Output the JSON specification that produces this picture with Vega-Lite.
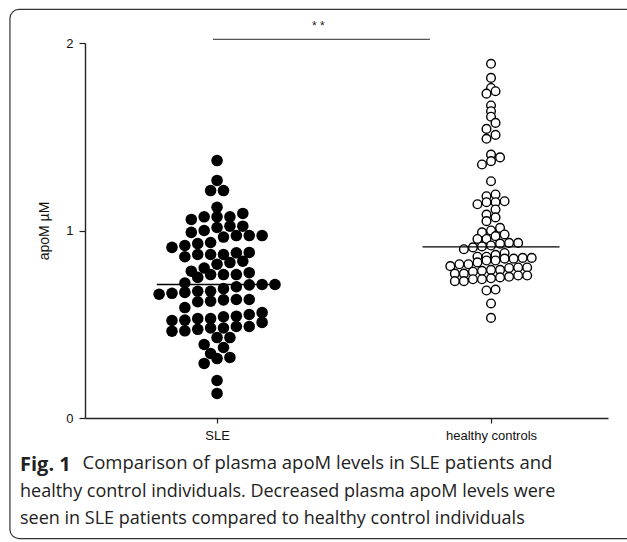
{
  "$schema": "https://vega.github.io/schema/vega-lite/v6.json",
  "width": 523,
  "height": 375,
  "autosize": "none",
  "padding": {"left": 85, "top": 43, "right": 19, "bottom": 124},
  "background": "white",
  "datasets": {
    "apom": [
      {"group": "SLE", "apoM": 1.373}, {"group": "SLE", "apoM": 1.267}, {"group": "SLE", "apoM": 1.213}, {"group": "SLE", "apoM": 1.213},
      {"group": "SLE", "apoM": 1.124}, {"group": "SLE", "apoM": 1.091}, {"group": "SLE", "apoM": 1.073}, {"group": "SLE", "apoM": 1.073},
      {"group": "SLE", "apoM": 1.073}, {"group": "SLE", "apoM": 1.059}, {"group": "SLE", "apoM": 1.023}, {"group": "SLE", "apoM": 1.023},
      {"group": "SLE", "apoM": 1.016}, {"group": "SLE", "apoM": 1.0}, {"group": "SLE", "apoM": 0.99}, {"group": "SLE", "apoM": 0.973},
      {"group": "SLE", "apoM": 0.973}, {"group": "SLE", "apoM": 0.973}, {"group": "SLE", "apoM": 0.965}, {"group": "SLE", "apoM": 0.936},
      {"group": "SLE", "apoM": 0.93}, {"group": "SLE", "apoM": 0.92}, {"group": "SLE", "apoM": 0.91}, {"group": "SLE", "apoM": 0.883},
      {"group": "SLE", "apoM": 0.881}, {"group": "SLE", "apoM": 0.872}, {"group": "SLE", "apoM": 0.872}, {"group": "SLE", "apoM": 0.872},
      {"group": "SLE", "apoM": 0.86}, {"group": "SLE", "apoM": 0.836}, {"group": "SLE", "apoM": 0.829}, {"group": "SLE", "apoM": 0.82},
      {"group": "SLE", "apoM": 0.8}, {"group": "SLE", "apoM": 0.783}, {"group": "SLE", "apoM": 0.775}, {"group": "SLE", "apoM": 0.765},
      {"group": "SLE", "apoM": 0.765}, {"group": "SLE", "apoM": 0.765}, {"group": "SLE", "apoM": 0.75}, {"group": "SLE", "apoM": 0.72},
      {"group": "SLE", "apoM": 0.712}, {"group": "SLE", "apoM": 0.712}, {"group": "SLE", "apoM": 0.71}, {"group": "SLE", "apoM": 0.7},
      {"group": "SLE", "apoM": 0.69}, {"group": "SLE", "apoM": 0.676}, {"group": "SLE", "apoM": 0.676}, {"group": "SLE", "apoM": 0.67},
      {"group": "SLE", "apoM": 0.665}, {"group": "SLE", "apoM": 0.66}, {"group": "SLE", "apoM": 0.632}, {"group": "SLE", "apoM": 0.632},
      {"group": "SLE", "apoM": 0.623}, {"group": "SLE", "apoM": 0.62}, {"group": "SLE", "apoM": 0.63}, {"group": "SLE", "apoM": 0.589},
      {"group": "SLE", "apoM": 0.562}, {"group": "SLE", "apoM": 0.552}, {"group": "SLE", "apoM": 0.543}, {"group": "SLE", "apoM": 0.54},
      {"group": "SLE", "apoM": 0.53}, {"group": "SLE", "apoM": 0.53}, {"group": "SLE", "apoM": 0.522}, {"group": "SLE", "apoM": 0.52},
      {"group": "SLE", "apoM": 0.51}, {"group": "SLE", "apoM": 0.488}, {"group": "SLE", "apoM": 0.488}, {"group": "SLE", "apoM": 0.48},
      {"group": "SLE", "apoM": 0.48}, {"group": "SLE", "apoM": 0.473}, {"group": "SLE", "apoM": 0.465}, {"group": "SLE", "apoM": 0.463},
      {"group": "SLE", "apoM": 0.429}, {"group": "SLE", "apoM": 0.429}, {"group": "SLE", "apoM": 0.392}, {"group": "SLE", "apoM": 0.376},
      {"group": "SLE", "apoM": 0.344}, {"group": "SLE", "apoM": 0.323}, {"group": "SLE", "apoM": 0.317}, {"group": "SLE", "apoM": 0.291},
      {"group": "SLE", "apoM": 0.2}, {"group": "SLE", "apoM": 0.131},
      {"group": "healthy controls", "apoM": 1.889}, {"group": "healthy controls", "apoM": 1.814}, {"group": "healthy controls", "apoM": 1.76},
      {"group": "healthy controls", "apoM": 1.743}, {"group": "healthy controls", "apoM": 1.73}, {"group": "healthy controls", "apoM": 1.667},
      {"group": "healthy controls", "apoM": 1.636}, {"group": "healthy controls", "apoM": 1.607}, {"group": "healthy controls", "apoM": 1.574},
      {"group": "healthy controls", "apoM": 1.542}, {"group": "healthy controls", "apoM": 1.51}, {"group": "healthy controls", "apoM": 1.489},
      {"group": "healthy controls", "apoM": 1.405}, {"group": "healthy controls", "apoM": 1.39}, {"group": "healthy controls", "apoM": 1.37},
      {"group": "healthy controls", "apoM": 1.352}, {"group": "healthy controls", "apoM": 1.263}, {"group": "healthy controls", "apoM": 1.192},
      {"group": "healthy controls", "apoM": 1.183}, {"group": "healthy controls", "apoM": 1.156}, {"group": "healthy controls", "apoM": 1.151},
      {"group": "healthy controls", "apoM": 1.151}, {"group": "healthy controls", "apoM": 1.14}, {"group": "healthy controls", "apoM": 1.112},
      {"group": "healthy controls", "apoM": 1.085}, {"group": "healthy controls", "apoM": 1.07}, {"group": "healthy controls", "apoM": 1.05},
      {"group": "healthy controls", "apoM": 1.014}, {"group": "healthy controls", "apoM": 1.0}, {"group": "healthy controls", "apoM": 0.99},
      {"group": "healthy controls", "apoM": 0.979}, {"group": "healthy controls", "apoM": 0.97}, {"group": "healthy controls", "apoM": 0.955},
      {"group": "healthy controls", "apoM": 0.955}, {"group": "healthy controls", "apoM": 0.934}, {"group": "healthy controls", "apoM": 0.934},
      {"group": "healthy controls", "apoM": 0.93}, {"group": "healthy controls", "apoM": 0.92}, {"group": "healthy controls", "apoM": 0.915},
      {"group": "healthy controls", "apoM": 0.91}, {"group": "healthy controls", "apoM": 0.9}, {"group": "healthy controls", "apoM": 0.88},
      {"group": "healthy controls", "apoM": 0.87}, {"group": "healthy controls", "apoM": 0.86}, {"group": "healthy controls", "apoM": 0.86},
      {"group": "healthy controls", "apoM": 0.854}, {"group": "healthy controls", "apoM": 0.854}, {"group": "healthy controls", "apoM": 0.85},
      {"group": "healthy controls", "apoM": 0.85}, {"group": "healthy controls", "apoM": 0.84}, {"group": "healthy controls", "apoM": 0.84},
      {"group": "healthy controls", "apoM": 0.83}, {"group": "healthy controls", "apoM": 0.82}, {"group": "healthy controls", "apoM": 0.82},
      {"group": "healthy controls", "apoM": 0.81}, {"group": "healthy controls", "apoM": 0.803}, {"group": "healthy controls", "apoM": 0.803},
      {"group": "healthy controls", "apoM": 0.8}, {"group": "healthy controls", "apoM": 0.79}, {"group": "healthy controls", "apoM": 0.79},
      {"group": "healthy controls", "apoM": 0.785}, {"group": "healthy controls", "apoM": 0.78}, {"group": "healthy controls", "apoM": 0.77},
      {"group": "healthy controls", "apoM": 0.77}, {"group": "healthy controls", "apoM": 0.76}, {"group": "healthy controls", "apoM": 0.76},
      {"group": "healthy controls", "apoM": 0.753}, {"group": "healthy controls", "apoM": 0.75}, {"group": "healthy controls", "apoM": 0.745},
      {"group": "healthy controls", "apoM": 0.74}, {"group": "healthy controls", "apoM": 0.74}, {"group": "healthy controls", "apoM": 0.73},
      {"group": "healthy controls", "apoM": 0.73}, {"group": "healthy controls", "apoM": 0.685}, {"group": "healthy controls", "apoM": 0.68},
      {"group": "healthy controls", "apoM": 0.611}, {"group": "healthy controls", "apoM": 0.534}
    ],
    "medians": [
      {"group": "SLE", "median": 0.712},
      {"group": "healthy controls", "median": 0.913}
    ]
  },
  "title": {
    "text": "Fig. 1",
    "subtitle": [
      "healthy control individuals. Decreased plasma apoM levels were",
      "seen in SLE patients compared to healthy control individuals"
    ],
    "orient": "bottom",
    "anchor": "start",
    "frame": "group",
    "dx": -65,
    "offset": -84,
    "baseline": "top",
    "font": "Open Sans",
    "fontSize": 20,
    "fontWeight": "bold",
    "color": "#222",
    "lineHeight": 27,
    "subtitleFont": "Open Sans",
    "subtitleFontSize": 18,
    "subtitleFontWeight": "normal",
    "subtitleColor": "#222",
    "subtitleLineHeight": 27,
    "subtitlePadding": 7.5
  },
  "layer": [
    {
      "data": {"values": [{}]},
      "mark": {"type": "rect", "fill": null, "stroke": "#333", "strokeWidth": 1.2, "cornerRadius": 9, "clip": false},
      "encoding": {
        "x": {
          "datum": 0.244, "type": "quantitative",
          "scale": {"domain": [0.518, 2.427], "nice": false, "zero": false},
          "axis": {
            "values": [1, 2], "labelExpr": "datum.value == 1 ? 'SLE' : 'healthy controls'",
            "title": "Comparison of plasma apoM levels in SLE patients and",
            "titleFont": "Open Sans", "titleFontSize": 18.5, "titleFontWeight": "normal", "titleColor": "#222",
            "titleAnchor": "start", "titleAlign": "left", "titleBaseline": "top", "titleX": -3, "titleY": 35.5,
            "grid": false, "domainColor": "#222", "domainWidth": 1.4, "tickColor": "#222", "tickWidth": 1.2, "tickSize": 5,
            "labelFont": "Liberation Sans", "labelFontSize": 13, "labelColor": "#111", "labelPadding": 6
          }
        },
        "x2": {"datum": 3.0},
        "y": {
          "datum": 2.179, "type": "quantitative",
          "scale": {"domain": [0, 2], "nice": false},
          "axis": {
            "values": [0, 1, 2], "labelExpr": "format(datum.value, 'd')", "labelOverlap": false, "title": "apoM µM",
            "grid": false, "domainColor": "#222", "domainWidth": 1.4, "tickColor": "#222", "tickWidth": 1.2, "tickSize": 6,
            "labelFont": "Liberation Sans", "labelFontSize": 13, "labelColor": "#111", "labelPadding": 6,
            "titleFont": "Liberation Sans", "titleFontSize": 14, "titleFontWeight": "normal", "titleColor": "#111", "titlePadding": 14
          }
        },
        "y2": {"datum": -0.643}
      }
    },
    {
      "data": {"name": "apom"},
      "transform": [
        {"filter": "datum.group === 'SLE'"},
        {"calculate": "floor(datum.apoM / 0.065)", "as": "row"},
        {"joinaggregate": [{"op": "count", "as": "n"}], "groupby": ["row"]},
        {"window": [{"op": "row_number", "as": "r"}], "groupby": ["row"], "sort": [{"field": "apoM"}]},
        {"calculate": "1 + (datum.r - 1 - (datum.n - 1) / 2) * 0.047", "as": "xpos"}
      ],
      "mark": {"type": "point", "shape": "circle", "filled": true, "color": "black", "size": 133, "opacity": 1},
      "encoding": {
        "x": {"field": "xpos", "type": "quantitative"},
        "y": {"field": "apoM", "type": "quantitative"}
      }
    },
    {
      "data": {"name": "apom"},
      "transform": [
        {"filter": "datum.group === 'healthy controls'"},
        {"calculate": "floor(datum.apoM / 0.045)", "as": "row"},
        {"joinaggregate": [{"op": "count", "as": "n"}], "groupby": ["row"]},
        {"window": [{"op": "row_number", "as": "r"}], "groupby": ["row"], "sort": [{"field": "apoM"}]},
        {"calculate": "2 + (datum.r - 1 - (datum.n - 1) / 2) * 0.033", "as": "xpos"}
      ],
      "mark": {"type": "point", "shape": "circle", "filled": true, "fill": "white", "stroke": "black", "strokeWidth": 1.4, "size": 75, "opacity": 1},
      "encoding": {
        "x": {"field": "xpos", "type": "quantitative"},
        "y": {"field": "apoM", "type": "quantitative"}
      }
    },
    {
      "data": {"name": "medians"},
      "transform": [
        {"calculate": "datum.group === 'SLE' ? 1 : 2", "as": "gi"},
        {"calculate": "datum.gi - (datum.group === 'SLE' ? 0.22 : 0.25)", "as": "x1"},
        {"calculate": "datum.gi + (datum.group === 'SLE' ? 0.2 : 0.25)", "as": "x2"}
      ],
      "mark": {"type": "rule", "color": "black", "strokeWidth": 1.3},
      "encoding": {
        "x": {"field": "x1", "type": "quantitative"},
        "x2": {"field": "x2"},
        "y": {"field": "median", "type": "quantitative"}
      }
    },
    {
      "data": {"values": [{}]},
      "mark": {"type": "rule", "color": "#555", "strokeWidth": 1.3, "clip": false},
      "encoding": {
        "x": {"datum": 0.985, "type": "quantitative"},
        "x2": {"datum": 1.777},
        "y": {"datum": 2.019, "type": "quantitative"}
      }
    },
    {
      "data": {"values": [{"label": "* *"}]},
      "mark": {"type": "text", "font": "Liberation Sans", "fontSize": 12, "color": "#222", "clip": false},
      "encoding": {
        "x": {"datum": 1.37, "type": "quantitative"},
        "y": {"datum": 2.09, "type": "quantitative"},
        "text": {"field": "label"}
      }
    }
  ],
  "config": {
    "view": {"stroke": null}
  }
}
